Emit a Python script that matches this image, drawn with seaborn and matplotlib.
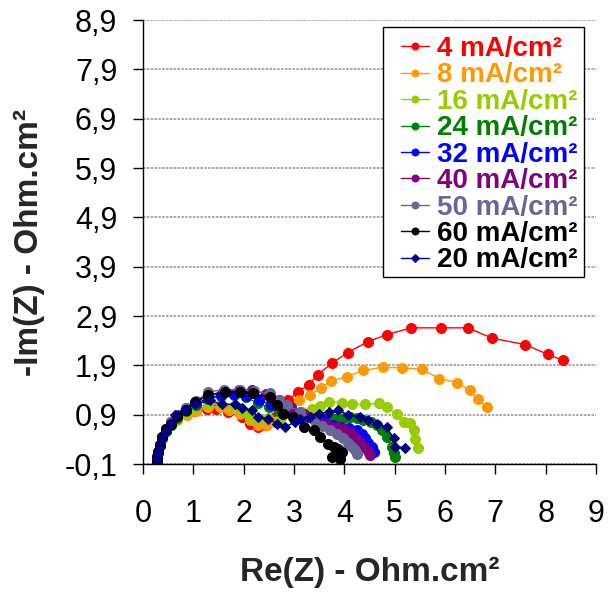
import matplotlib
matplotlib.use("Agg")
import matplotlib.pyplot as plt
from matplotlib.patches import Rectangle
import seaborn as sns
import pandas as pd

sns.set_theme(style="white")
plt.rcParams['font.family'] = ['Liberation Sans', 'DejaVu Sans']

# ---------------- data ----------------
labels = ["4 mA/cm²", "8 mA/cm²", "16 mA/cm²", "24 mA/cm²", "32 mA/cm²",
          "40 mA/cm²", "50 mA/cm²", "60 mA/cm²", "20 mA/cm²"]
colors = ["#FF0000", "#FF9900", "#99CC00", "#008000", "#0000FF",
          "#800080", "#666699", "#000000", "#000080"]
text_colors = ["#FF0000", "#FF9900", "#99CC00", "#008000", "#0000FF",
               "#800080", "#666699", "#000000", "#000000"]

x4 = [0.27, 0.28, 0.30, 0.33, 0.38, 0.45, 0.55, 0.68, 0.85, 1.03, 1.27, 1.46, 1.68, 1.96, 2.13, 2.29, 2.45,
      2.62, 2.78, 2.89, 3.07, 3.29, 3.47, 3.75, 4.07, 4.47, 4.84, 5.33, 5.93, 6.45, 6.94, 7.59, 8.05, 8.34]
y4 = [-0.05, 0.05, 0.15, 0.28, 0.42, 0.56, 0.70, 0.82, 0.92, 0.98, 1.02, 1.02, 0.95, 0.85, 0.72, 0.66, 0.70,
      0.85, 1.02, 1.19, 1.36, 1.50, 1.71, 1.94, 2.16, 2.38, 2.52, 2.66, 2.66, 2.66, 2.45, 2.32, 2.12, 2.00]

x8 = [0.27, 0.28, 0.30, 0.33, 0.38, 0.45, 0.55, 0.68, 0.87, 1.05, 1.30, 1.53, 1.70, 1.93, 2.13, 2.29, 2.46,
      2.62, 2.75, 2.92, 3.09, 3.32, 3.53, 3.74, 4.05, 4.38, 4.76, 5.14, 5.54, 5.89, 6.24, 6.49, 6.65, 6.84]
y8 = [-0.05, 0.05, 0.15, 0.28, 0.42, 0.56, 0.70, 0.80, 0.90, 0.98, 1.05, 1.06, 0.99, 0.92, 0.79, 0.69, 0.69,
      0.75, 0.88, 1.05, 1.19, 1.30, 1.44, 1.58, 1.67, 1.80, 1.86, 1.85, 1.82, 1.63, 1.55, 1.40, 1.21, 1.06]

x16 = [0.27, 0.28, 0.30, 0.33, 0.38, 0.45, 0.55, 0.68, 0.87, 1.05, 1.30, 1.55, 1.80, 2.00, 2.13, 2.30, 2.49,
       2.72, 2.96, 3.15, 3.35, 3.52, 3.69, 3.95, 4.15, 4.41, 4.68, 4.84, 5.04, 5.18, 5.31, 5.39, 5.41, 5.47]
y16 = [-0.05, 0.05, 0.15, 0.28, 0.42, 0.56, 0.70, 0.82, 0.95, 1.05, 1.12, 1.12, 1.05, 0.95, 0.85, 0.82, 0.83,
       0.82, 0.89, 0.96, 1.02, 1.07, 1.16, 1.14, 1.11, 1.11, 1.13, 1.06, 0.91, 0.75, 0.73, 0.59, 0.40, 0.23]

x24 = [0.27, 0.28, 0.30, 0.33, 0.38, 0.45, 0.55, 0.68, 0.85, 1.05, 1.30, 1.55, 1.80, 2.05, 2.29, 2.50, 2.70,
       2.95, 3.20, 3.45, 3.65, 3.82, 4.00, 4.12, 4.25, 4.38, 4.52, 4.65, 4.75, 4.84, 4.94, 4.98, 5.01]
y24 = [-0.05, 0.05, 0.15, 0.28, 0.42, 0.56, 0.70, 0.83, 0.97, 1.10, 1.22, 1.28, 1.30, 1.25, 1.13, 1.05, 0.98,
       0.92, 0.88, 0.85, 0.83, 0.82, 0.84, 0.86, 0.83, 0.79, 0.75, 0.69, 0.58, 0.45, 0.25, 0.12, 0.05]

x32 = [0.27, 0.28, 0.30, 0.33, 0.38, 0.45, 0.55, 0.68, 0.85, 1.05, 1.30, 1.55, 1.80, 2.05, 2.30, 2.55, 2.80,
       3.05, 3.30, 3.59, 3.78, 3.92, 4.10, 4.25, 4.35, 4.41, 4.48, 4.55, 4.58]
y32 = [-0.05, 0.05, 0.15, 0.28, 0.45, 0.60, 0.75, 0.88, 1.00, 1.13, 1.23, 1.30, 1.32, 1.28, 1.20, 1.10, 1.00,
       0.92, 0.85, 0.79, 0.70, 0.65, 0.62, 0.59, 0.50, 0.42, 0.33, 0.25, 0.15]

x40 = [0.27, 0.28, 0.30, 0.33, 0.38, 0.45, 0.55, 0.68, 0.85, 1.05, 1.30, 1.60, 1.90, 2.16, 2.45, 2.70, 2.95,
       3.20, 3.45, 3.65, 3.85, 4.00, 4.12, 4.22, 4.31, 4.40, 4.48, 4.51]
y40 = [-0.05, 0.05, 0.15, 0.28, 0.45, 0.60, 0.76, 0.90, 1.03, 1.16, 1.29, 1.37, 1.40, 1.40, 1.32, 1.20, 1.05,
       0.92, 0.80, 0.72, 0.65, 0.60, 0.55, 0.45, 0.35, 0.25, 0.16, 0.08]

x50 = [0.27, 0.28, 0.30, 0.33, 0.38, 0.45, 0.55, 0.68, 0.85, 1.05, 1.30, 1.60, 1.93, 2.20, 2.52, 2.70, 2.86,
       3.12, 3.39, 3.55, 3.72, 3.85, 3.98, 4.08, 4.15, 4.22, 4.25]
y50 = [-0.05, 0.05, 0.15, 0.28, 0.45, 0.60, 0.76, 0.90, 1.03, 1.17, 1.36, 1.41, 1.41, 1.38, 1.33, 1.20, 1.09,
       0.96, 0.79, 0.68, 0.59, 0.50, 0.42, 0.33, 0.25, 0.18, 0.11]

x60 = [0.27, 0.28, 0.30, 0.33, 0.38, 0.45, 0.55, 0.68, 0.85, 1.03, 1.30, 1.63, 1.93, 2.19, 2.52, 2.66, 2.79,
       2.99, 3.19, 3.39, 3.52, 3.68, 3.80, 3.88, 3.95, 3.92, 3.75]
y60 = [-0.05, 0.05, 0.15, 0.28, 0.45, 0.60, 0.72, 0.87, 1.00, 1.16, 1.29, 1.36, 1.36, 1.33, 1.25, 1.09, 0.92,
       0.85, 0.65, 0.58, 0.45, 0.31, 0.25, 0.20, 0.14, 0.01, 0.04]

x20 = [0.27, 0.28, 0.30, 0.33, 0.38, 0.45, 0.55, 0.64, 0.83, 1.03, 1.33, 1.56, 1.83, 1.96, 2.16, 2.29, 2.49,
       2.66, 2.82, 3.02, 3.12, 3.32, 3.49, 3.69, 3.88, 4.08, 4.31, 4.48, 4.65, 4.84, 4.98, 5.01, 5.21]
y20 = [-0.08, 0.02, 0.12, 0.25, 0.40, 0.55, 0.72, 0.89, 0.99, 1.11, 1.19, 1.11, 1.11, 1.04, 0.99, 0.85, 0.82,
       0.72, 0.65, 0.75, 0.82, 0.86, 0.92, 0.96, 1.00, 0.89, 0.86, 0.79, 0.72, 0.64, 0.42, 0.25, 0.23]

xs = [x4, x8, x16, x24, x32, x40, x50, x60, x20]
ys = [y4, y8, y16, y24, y32, y40, y50, y60, y20]
markers = ["o", "o", "o", "o", "o", "o", "o", "o", "D"]

x_ticks = [0, 1, 2, 3, 4, 5, 6, 7, 8, 9]
y_ticks = [-0.1, 0.9, 1.9, 2.9, 3.9, 4.9, 5.9, 6.9, 7.9, 8.9]
y_tick_labels = ["-0,1", "0,9", "1,9", "2,9", "3,9", "4,9", "5,9", "6,9", "7,9", "8,9"]

# ---------------- plot ----------------
W, H = 609, 592
fig = plt.figure(figsize=(W / 100, H / 100), dpi=100)
ax = fig.add_axes([143 / W, 1 - 464 / H, (596 - 143) / W, (464 - 20) / H])

for lab, c, m, xv, yv in zip(labels, colors, markers, xs, ys):
    df = pd.DataFrame({"x": xv, "y": yv})
    ms = 7.2 if m == "o" else 5.2
    sns.lineplot(data=df, x="x", y="y", ax=ax, sort=False, estimator=None,
                 color=c, marker=m, markersize=ms, markeredgecolor=c,
                 linewidth=1.0, label=lab)

ax.set_xlim(0, 9)
ax.set_ylim(-0.1, 8.9)
ax.set_xticks(x_ticks)
ax.set_xticklabels([str(t) for t in x_ticks])
ax.set_yticks(y_ticks)
ax.set_yticklabels(y_tick_labels)
ax.tick_params(axis="x", labelsize=22, colors="black", direction="out",
               length=7.5, width=1, bottom=True, pad=18)
ax.tick_params(axis="y", labelsize=22, colors="black", direction="out",
               length=7.5, width=1, left=True, pad=11)
ax.yaxis.grid(True, color="#9a9a9a", linewidth=1.2, linestyle=(0, (1.5, 0.8)))
ax.xaxis.grid(False)
for s in ["top", "right"]:
    ax.spines[s].set_visible(False)
for s in ["left", "bottom"]:
    ax.spines[s].set_color("black")
    ax.spines[s].set_linewidth(1.0)
ax.set_facecolor("white")

ax.set_xlabel("Re(Z) - Ohm.cm²", fontsize=24, fontweight="bold")
ax.set_ylabel("-Im(Z) - Ohm.cm²", fontsize=24, fontweight="bold")
ax.xaxis.set_label_coords(0.5, (464 - 557) / 444)
ax.yaxis.set_label_coords((45 - 143) / 453, 0.5)

# legend frame (white box with black border)
frame = Rectangle((383 / W, 1 - 277 / H), (584 - 383) / W, (277 - 27) / H,
                  transform=fig.transFigure, facecolor="white", edgecolor="black",
                  linewidth=1.0, zorder=4)
ax.add_patch(frame)
frame.set_clip_on(False)

fs_leg = 20
leg = ax.legend(loc="upper left", bbox_to_anchor=(401 / W, 1 - 36 / H),
                bbox_transform=fig.transFigure, frameon=False,
                prop={"weight": "bold", "size": fs_leg},
                handlelength=1.02, handletextpad=0.29, labelspacing=0.015,
                borderpad=0, borderaxespad=0)
leg.set_zorder(5)
for t, tc in zip(leg.get_texts(), text_colors):
    t.set_color(tc)
for h in leg.legend_handles:
    h.set_markersize(5 if h.get_marker() == "o" else 4.5)

fig.savefig("out.png", dpi=100, facecolor="white")
